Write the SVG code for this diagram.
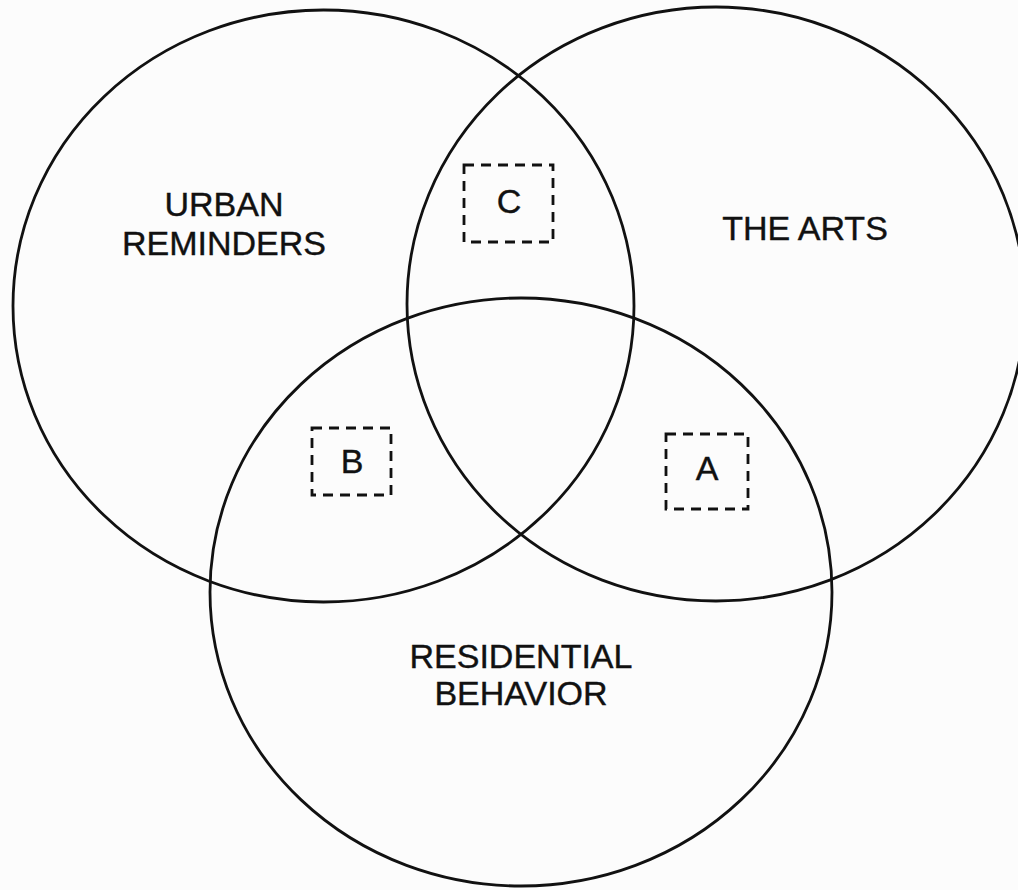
<svg xmlns="http://www.w3.org/2000/svg" width="1018" height="890" viewBox="0 0 1018 890">
<style>
.c{fill:none;stroke:#111;stroke-width:2.8}
.b{fill:none;stroke:#111;stroke-width:2.8;stroke-dasharray:10 7}
.t{font-family:"Liberation Sans",Arial,sans-serif;font-size:34px;fill:#111;text-anchor:middle;stroke:#111;stroke-width:0.4}
</style>
<rect width="1018" height="890" fill="#fcfcfc"/>
<g id="urban-reminders">
<ellipse class="c" cx="323.5" cy="306" rx="310.5" ry="296"/>
<text class="t" x="224" y="216">URBAN</text>
<text class="t" x="224" y="255">REMINDERS</text>
</g>
<g id="the-arts">
<ellipse class="c" cx="716" cy="304" rx="309" ry="297"/>
<text class="t" x="805" y="240">THE ARTS</text>
</g>
<g id="residential-behavior">
<ellipse class="c" cx="521" cy="592" rx="311" ry="294"/>
<text class="t" x="521" y="668">RESIDENTIAL</text>
<text class="t" x="521" y="705">BEHAVIOR</text>
</g>
<g id="box-c">
<rect class="b" x="464" y="165" width="89" height="77"/>
<text class="t" x="509" y="213">C</text>
</g>
<g id="box-b">
<rect class="b" x="312" y="428" width="79" height="67"/>
<text class="t" x="352" y="473">B</text>
</g>
<g id="box-a">
<rect class="b" x="666" y="434" width="82" height="75"/>
<text class="t" x="707" y="480">A</text>
</g>
<g id="connectors"/>
</svg>
